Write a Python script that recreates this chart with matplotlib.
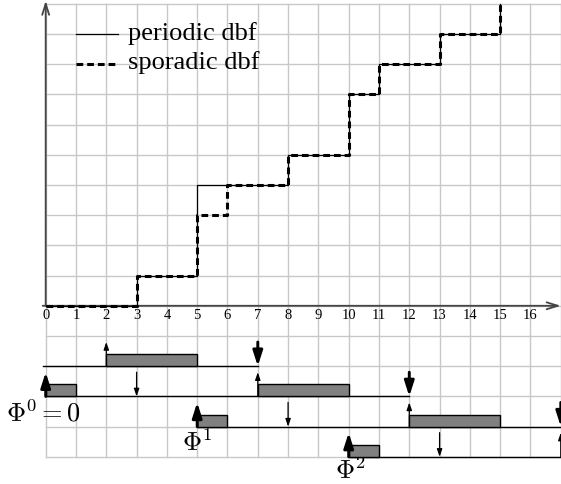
import numpy as np
import matplotlib.pyplot as plt
from matplotlib.patches import Rectangle

plt.rcParams['mathtext.fontset'] = 'cm'
SERIF = 'Liberation Serif'

# demand bound functions (step breakpoints and levels)
periodic_x = [0, 3, 5, 8, 10, 11, 13, 15]
periodic_y = [0, 1, 4, 5, 7, 8, 9, 10]
sporadic_x = [0, 3, 5, 6, 8, 10, 11, 13, 15]
sporadic_y = [0, 1, 3, 4, 5, 7, 8, 9, 10]

x_ticks = list(range(0, 17))

# timeline rows: baseline, line span, boxes (start, end), arrows
row_base = [-2, -3, -4, -5]
row_span = [(-0.1, 7), (0, 12), (5, 17), (10, 17)]
row_boxes = [[(2, 5)], [(0, 1), (7, 10)], [(5, 6), (12, 15)], [(10, 11)]]
row_thick_up = [[], [0], [5], [10]]
row_thin_up = [[2], [7], [12], [17]]
row_thin_down = [[], [3], [8], [13]]
row_thick_down = [[7], [12], [17], []]

phi_labels = [r'$\Phi^0 = 0$', r'$\Phi^1$', r'$\Phi^2$']
phi_pos = [(-1.3, -3.55), (4.5, -4.55), (9.55, -5.45)]

GRID = '#c8c8c8'
AXC = '#444444'

fig = plt.figure(figsize=(5.61, 4.85), dpi=100)
ax = fig.add_axes([0, 0, 1, 1])
ax.set_xlim(-1.508, 17.007)
ax.set_ylim(-5.90, 10.156)
ax.axis('off')

# grid
for gx in range(0, 18):
    ax.plot([gx, gx], [-5, 10], color=GRID, lw=1.0, zorder=1)
for gy in range(-5, 11):
    ax.plot([0, 17], [gy, gy], color=GRID, lw=1.0, zorder=1)

# axes with arrows
ax.annotate('', xy=(17.0, 0), xytext=(-0.1, 0),
            arrowprops=dict(arrowstyle='->, head_length=0.8, head_width=0.25',
                            color=AXC, lw=1.3, shrinkA=0, shrinkB=0), zorder=3)
ax.annotate('', xy=(0, 10.1), xytext=(0, 0),
            arrowprops=dict(arrowstyle='->, head_length=0.8, head_width=0.25',
                            color=AXC, lw=1.3, shrinkA=0, shrinkB=0), zorder=3)
for t in x_ticks:
    ax.text(t, -0.29, str(t), ha='center', va='center', family=SERIF, fontsize=10.5)

# step functions
ax.plot(periodic_x, periodic_y, drawstyle='steps-post', color='black', lw=0.9, zorder=4)
ax.plot(sporadic_x, sporadic_y, drawstyle='steps-post', color='black', lw=2.2,
        dashes=(2.2, 1.3), zorder=5)

# legend
ax.plot([1, 2.4], [9, 9], color='black', lw=0.9, zorder=4)
ax.plot([1, 2.4], [8, 8], color='black', lw=2.2, dashes=(2.2, 1.3), zorder=4)
ax.text(2.72, 9.05, 'periodic dbf', family=SERIF, fontsize=19, va='center', ha='left')
ax.text(2.72, 8.1, 'sporadic dbf', family=SERIF, fontsize=19, va='center', ha='left')

# timelines
def arrow(x, y0, y1, thick):
    if thick:
        props = dict(arrowstyle='-|>, head_length=0.5, head_width=0.16',
                     color='black', lw=2.1, shrinkA=0, shrinkB=0, mutation_scale=18)
    else:
        props = dict(arrowstyle='-|>, head_length=0.32, head_width=0.11',
                     color='black', lw=0.9, shrinkA=0, shrinkB=0, mutation_scale=14)
    ax.annotate('', xy=(x, y1), xytext=(x, y0), arrowprops=props, zorder=7)

for i, base in enumerate(row_base):
    s, e = row_span[i]
    ax.plot([s, e], [base, base], color='black', lw=1.0, zorder=5)
    for b0, b1 in row_boxes[i]:
        ax.add_patch(Rectangle((b0, base), b1 - b0, 0.4, facecolor='#808080',
                               edgecolor='black', lw=1.0, zorder=6))
    for x in row_thick_up[i]:
        arrow(x, base, base + 0.8, True)
    for x in row_thin_up[i]:
        arrow(x, base, base + 0.8, False)
    for x in row_thin_down[i]:
        arrow(x, base + 0.8, base, False)
    for x in row_thick_down[i]:
        arrow(x, base + 0.8, base, True)

for lab, (px, py) in zip(phi_labels, phi_pos):
    ax.text(px, py, lab, fontsize=19, ha='left', va='center')

fig.savefig('out.png', dpi=100)
